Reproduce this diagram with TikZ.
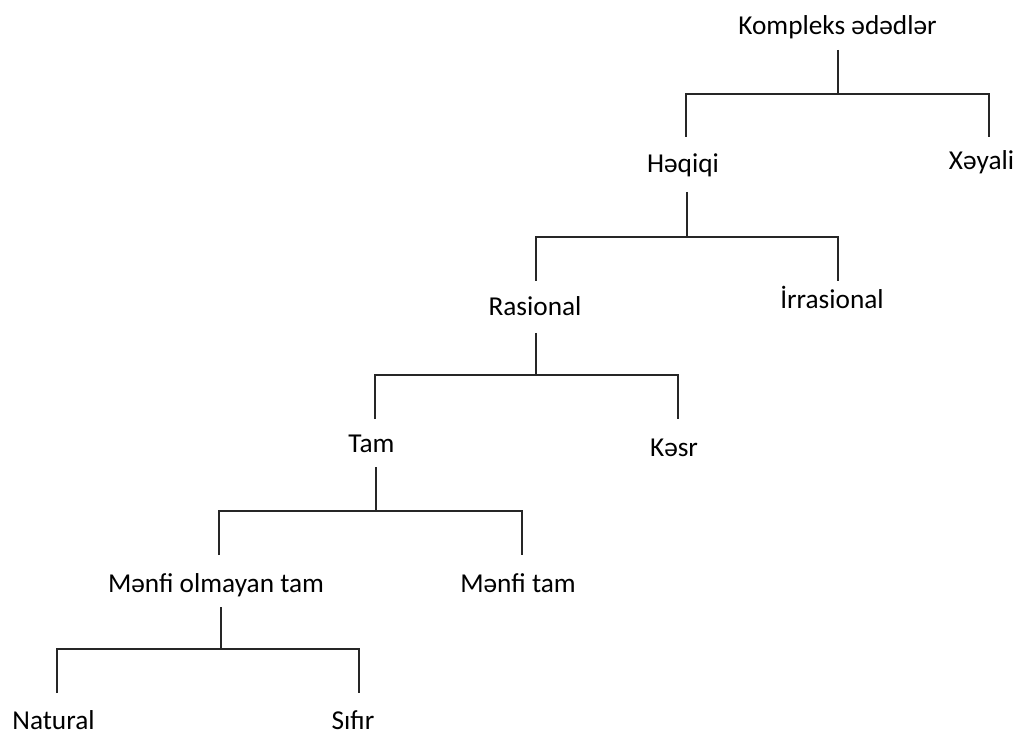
\documentclass[tikz,border=0pt]{standalone}
\usepackage{fontspec}
\setmainfont{Carlito}
\begin{document}
\begin{tikzpicture}[x=1pt,y=-1pt,
  lbl/.style={anchor=base,inner sep=0pt,font=\fontsize{27.3}{32}\selectfont},
  conn/.style={line width=1.6pt,draw=black!85,line join=miter}]
\useasboundingbox (0,0) rectangle (1018,735);
% labels
\node[lbl] (K)   at (837.5,35)  {Kompleks ədədlər};
\node[lbl] (H)   at (683,173)   {Həqiqi};
\node[lbl] (X)   at (981.5,170) {Xəyali};
\node[lbl] (R)   at (535,316)   {Rasional};
\node[lbl] (I)   at (832,309)   {İrrasional};
\node[lbl] (T)   at (371.5,453) {Tam};
\node[lbl] (Ks)  at (674,456)   {Kəsr};
\node[lbl] (MO)  at (216,592)   {Mənfi olmayan tam};
\node[lbl] (MT)  at (518,592)   {Mənfi tam};
\node[lbl] (N)   at (53.5,729)  {Natural};
\node[lbl] (S)   at (353,729)   {Sıfır};
% connector points
\coordinate (K-s) at (838,50);  \coordinate (K-j) at (838,94);
\coordinate (H-t) at (686,137); \coordinate (X-t) at (989,137);
\coordinate (H-s) at (687,192); \coordinate (H-j) at (687,237);
\coordinate (R-t) at (536,281); \coordinate (I-t) at (838,281);
\coordinate (R-s) at (536,333); \coordinate (R-j) at (536,375);
\coordinate (T-t) at (375,419); \coordinate (Ks-t) at (678,419);
\coordinate (T-s) at (376,467); \coordinate (T-j) at (376,511);
\coordinate (MO-t) at (219,555); \coordinate (MT-t) at (522,555);
\coordinate (MO-s) at (221,607); \coordinate (MO-j) at (221,649);
\coordinate (N-t) at (57,693);  \coordinate (S-t) at (359,693);
% connectors
\draw[conn] (K-s) -- (K-j);
\draw[conn] (H-t) |- (K-j) -| (X-t);
\draw[conn] (H-s) -- (H-j);
\draw[conn] (R-t) |- (H-j) -| (I-t);
\draw[conn] (R-s) -- (R-j);
\draw[conn] (T-t) |- (R-j) -| (Ks-t);
\draw[conn] (T-s) -- (T-j);
\draw[conn] (MO-t) |- (T-j) -| (MT-t);
\draw[conn] (MO-s) -- (MO-j);
\draw[conn] (N-t) |- (MO-j) -| (S-t);
\end{tikzpicture}
\end{document}
